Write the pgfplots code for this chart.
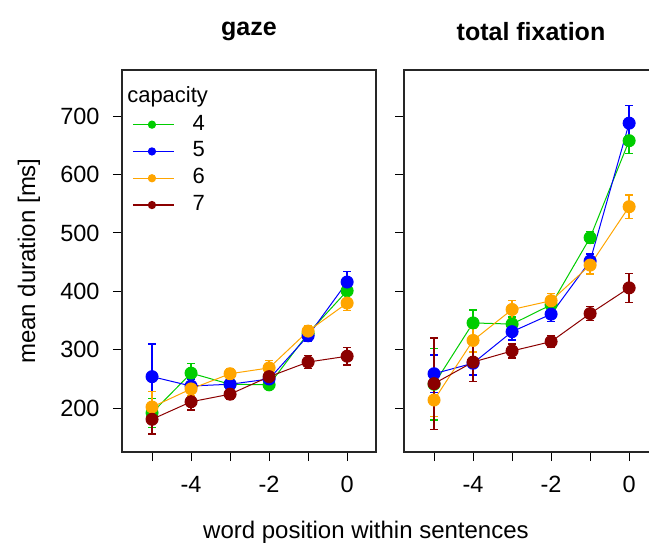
\documentclass[border=0pt]{standalone}
\usepackage{pgfplots}
\pgfplotsset{compat=1.18}
\usepackage{fontspec}
\setmainfont{Liberation Sans}

\definecolor{capA}{HTML}{00CD00}
\definecolor{capB}{HTML}{0000FF}
\definecolor{capC}{HTML}{FFA500}
\definecolor{capD}{HTML}{8B0000}

\pgfplotsset{
  panel/.style={
    scale only axis,
    width=254pt, height=382pt,
    xmin=-5.77, xmax=0.74,
    ymin=125, ymax=779,
    axis line style={line width=1.3pt, black!85},
    tick align=outside,
    major tick length=9pt,
    tick style={line width=1pt, black},
    xtick={-5,-4,-3,-2,-1,0},
    xticklabels={,-4,,-2,,0},
    ytick={200,300,400,500,600,700},
    xtick pos=bottom, ytick pos=left,
    ticklabel style={font=\fontsize{23.5}{28}\selectfont},
    xticklabel style={yshift=-12pt},
    yticklabel style={xshift=-10pt},
    title style={font=\fontsize{25}{30}\selectfont\bfseries, yshift=20pt},
    clip=false,
  },
  ser/.style={
    color=#1, line width=1pt,
    mark=*, mark size=6pt, mark options={solid, fill=#1, draw=#1},
    error bars/.cd, y dir=both, y explicit,
    error bar style={line width=1.3pt, color=#1},
    error mark options={rotate=90, mark size=3.8pt, line width=1.3pt, color=#1},
  },
}

\begin{document}
\begin{tikzpicture}

% gaze duration
\begin{axis}[panel, at={(122pt,-452pt)}, anchor=south west,
  title={gaze},
  yticklabels={200,300,400,500,600,700},
  legend style={at={(axis description cs:0.04,0.885)}, anchor=north west,
    draw=none, fill=none, inner sep=0pt,
    row sep=5.8pt, column sep=18pt,
    font=\fontsize{22}{26}\selectfont,
    nodes={inner sep=0pt, text height=16pt, text depth=5pt}},
  legend image code/.code={
    \draw[#1, line width=1.2pt, mark repeat=2, mark phase=2, mark size=3.5pt]
      plot coordinates {(0pt,0pt) (19pt,0pt) (41pt,0pt)};
  },
]
\addplot+[ser=capA] coordinates {
  (-5,192) +- (0,25)  (-4,260) +- (0,16)  (-3,241) +- (0,8)
  (-2,240) +- (0,8)   (-1,328) +- (0,10)  (0,401) +- (0,14)};
\addlegendentry{4}
\addplot+[ser=capB] coordinates {
  (-5,254) +- (0,56)  (-4,238) +- (0,12)  (-3,241) +- (0,10)
  (-2,250) +- (0,8)   (-1,324) +- (0,10)  (0,416) +- (0,18)};
\addlegendentry{5}
\addplot+[ser=capC] coordinates {
  (-5,202) +- (0,26)  (-4,233) +- (0,12)  (-3,259) +- (0,8)
  (-2,269) +- (0,13)  (-1,332) +- (0,10)  (0,380) +- (0,13)};
\addlegendentry{6}
\addplot+[ser=capD] coordinates {
  (-5,181) +- (0,25)  (-4,211) +- (0,14)  (-3,224) +- (0,8)
  (-2,254) +- (0,10)  (-1,279) +- (0,11)  (0,289) +- (0,15)};
\addlegendentry{7}
\node[anchor=base west, font=\fontsize{22}{26}\selectfont, inner sep=0pt]
  at (axis description cs:0.02,0.915) {capacity};
\end{axis}

% total fixation duration
\begin{axis}[panel, at={(404pt,-452pt)}, anchor=south west,
  title={total fixation},
  yticklabels={},
]
\addplot+[ser=capA] coordinates {
  (-5,241) +- (0,61)  (-4,346) +- (0,22)  (-3,344) +- (0,12)
  (-2,377) +- (0,10)  (-1,492) +- (0,10)  (0,658) +- (0,22)};
\addplot+[ser=capB] coordinates {
  (-5,259) +- (0,32)  (-4,277) +- (0,20)  (-3,331) +- (0,14)
  (-2,361) +- (0,12)  (-1,452) +- (0,12)  (0,688) +- (0,30)};
\addplot+[ser=capC] coordinates {
  (-5,214) +- (0,28)  (-4,316) +- (0,20)  (-3,369) +- (0,15)
  (-2,384) +- (0,12)  (-1,445) +- (0,15)  (0,545) +- (0,20)};
\addplot+[ser=capD] coordinates {
  (-5,242) +- (0,78)  (-4,279) +- (0,33)  (-3,298) +- (0,12)
  (-2,314) +- (0,10)  (-1,362) +- (0,12)  (0,406) +- (0,25)};
\end{axis}

% shared axis titles
\node[rotate=90, font=\fontsize{24}{28}\selectfont, inner sep=0pt]
  at (29pt,-261pt) {mean duration [ms]};
\node[font=\fontsize{24}{28}\selectfont, inner sep=0pt, anchor=base]
  at (366pt,-538pt) {word position within sentences};

\pgfresetboundingbox
\path (0pt,0pt) rectangle (649pt,-547pt);
\end{tikzpicture}
\end{document}
